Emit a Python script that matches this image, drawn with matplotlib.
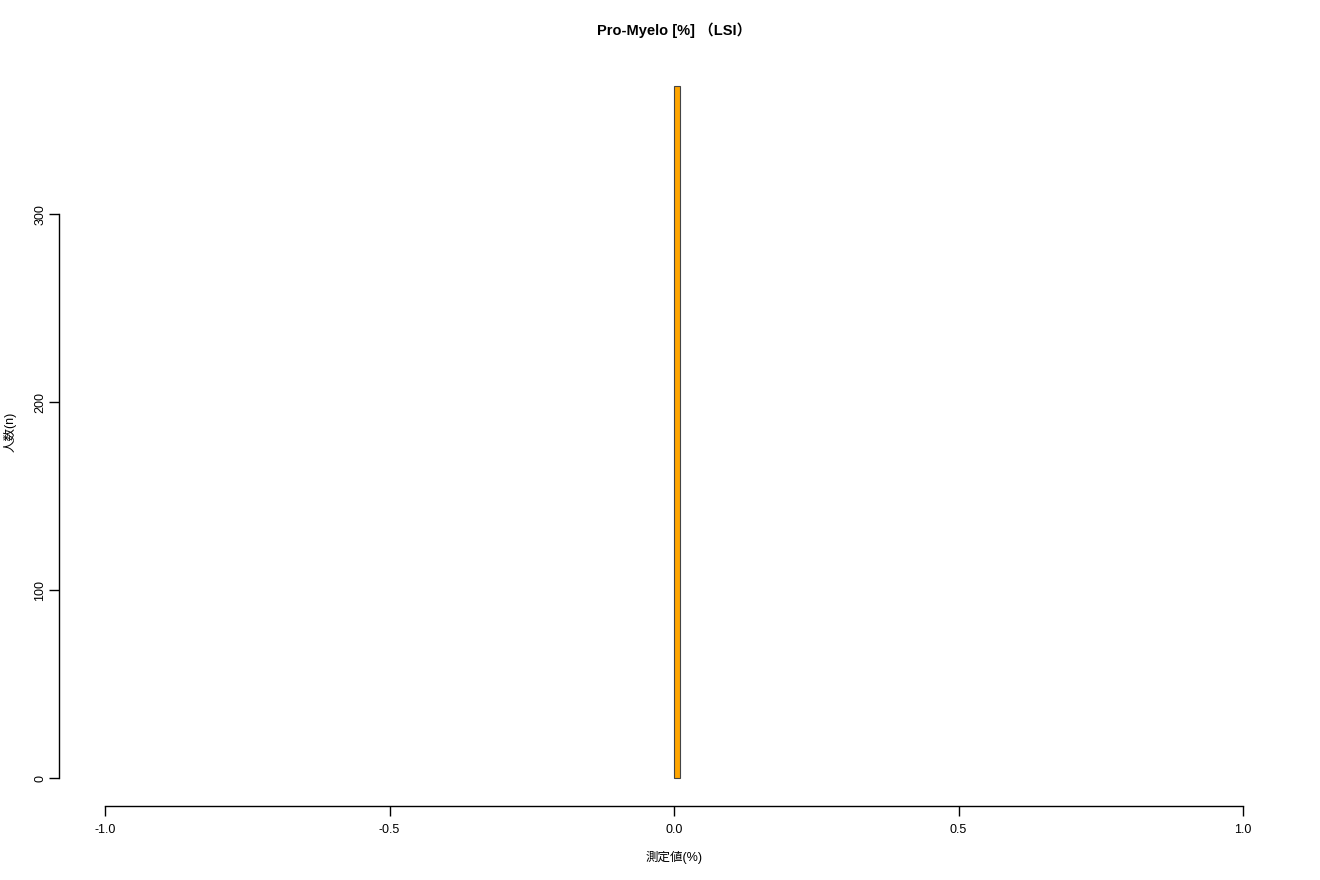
import matplotlib.pyplot as plt

plt.rcParams['font.family'] = ['Liberation Sans', 'Noto Sans CJK JP', 'DejaVu Sans']

bin_left = [0.0]
bin_width = [0.01]
counts = [368]
x_ticks = [-1.0, -0.5, 0.0, 0.5, 1.0]
x_tick_labels = ["-1.0", "-0.5", "0.0", "0.5", "1.0"]
y_ticks = [0, 100, 200, 300]

fig = plt.figure(figsize=(13.2, 8.8), dpi=100)
W, H = 1320, 880
left_px, right_px, bottom_px, top_px = 59, 1289, 806, 58.5
ax = fig.add_axes([left_px / W, 1 - bottom_px / H,
                   (right_px - left_px) / W, (bottom_px - top_px) / H])

ax.bar(bin_left, counts, width=bin_width, align="edge",
       color="#FFA500", edgecolor="#444444", linewidth=0.8)

pad_x = 46 / 569
ax.set_xlim(-1 - pad_x, 1 + pad_x)
ax.set_ylim(-0.04 * max(counts), 1.04 * max(counts))

for s in ["top", "right"]:
    ax.spines[s].set_visible(False)
ax.spines["bottom"].set_bounds(-1, 1)
ax.spines["left"].set_bounds(0, 300)
ax.spines["bottom"].set_linewidth(1)
ax.spines["left"].set_linewidth(1)

ax.set_xticks(x_ticks)
ax.set_xticklabels(x_tick_labels)
ax.set_yticks(y_ticks)
ax.set_yticklabels([str(v) for v in y_ticks], rotation=90, va="center")
ax.tick_params(direction="out", length=7, width=1, labelsize=9)
ax.tick_params(axis="x", pad=6)
ax.tick_params(axis="y", pad=2)

ax.set_title("Pro-Myelo [%] （LSI）", fontsize=10.5, fontweight="bold", pad=17)
ax.set_xlabel("測定値(%)", fontsize=9)
ax.set_ylabel("人数(n)", fontsize=9)
ax.xaxis.set_label_coords(0.5, (bottom_px - 857) / (bottom_px - top_px))
ax.xaxis.label.set_va("center")
ax.yaxis.set_label_coords((10 - left_px) / (right_px - left_px), 0.5)
ax.yaxis.label.set_va("center")

fig.savefig("out.png", dpi=100)
